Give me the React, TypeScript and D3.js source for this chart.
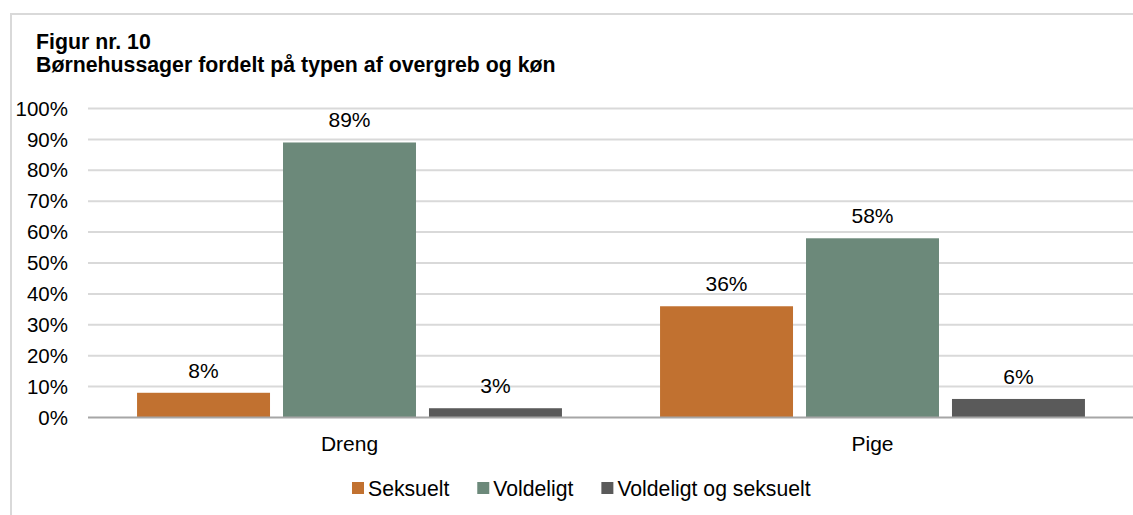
import React, { useEffect, useRef } from "react";
import * as d3 from "d3";

const categories = ["Dreng", "Pige"];
const seriesNames = ["Seksuelt", "Voldeligt", "Voldeligt og seksuelt"];
const seksuelt = [0.08, 0.36];
const voldeligt = [0.89, 0.58];
const voldeligtOgSeksuelt = [0.03, 0.06];
const yTicks = [0, 0.1, 0.2, 0.3, 0.4, 0.5, 0.6, 0.7, 0.8, 0.9, 1];
const colors = ["#C17130", "#6C897A", "#5A5A5A"];

const App = () => {
  const svgRef = useRef<SVGSVGElement>(null);

  useEffect(() => {
    const w = 1133;
    const h = 515;
    const font = "'Liberation Sans', Arial, sans-serif";
    const svg = d3.select(svgRef.current).attr("width", w).attr("height", h);
    svg.selectAll("*").remove();

    // outer frame (cropped at right and bottom)
    svg.append("rect")
      .attr("x", 11).attr("y", 14)
      .attr("width", w + 20).attr("height", h + 20)
      .attr("fill", "#fff")
      .attr("stroke", "#d9d9d9")
      .attr("stroke-width", 2);

    // title
    const title = svg.append("text")
      .attr("font-family", font)
      .attr("font-size", 21.3)
      .attr("font-weight", "bold")
      .attr("fill", "#000");
    title.append("tspan").attr("x", 36).attr("y", 49).text("Figur nr. 10");
    title.append("tspan").attr("x", 36).attr("y", 72).text("Børnehussager fordelt på typen af overgreb og køn");

    const left = 88;
    const right = 1134;
    const y = d3.scaleLinear().domain([0, 1]).range([417.5, 108.5]);
    const x0 = d3.scaleBand().domain(categories).range([left, right]);
    const x1 = d3.scaleBand().domain(seriesNames)
      .range([0, x0.bandwidth()])
      .paddingInner(0.089)
      .paddingOuter(0.336);

    // gridlines
    svg.append("g")
      .selectAll("line")
      .data(yTicks.filter(t => t > 0))
      .join("line")
      .attr("x1", left).attr("x2", w)
      .attr("y1", d => y(d)).attr("y2", d => y(d))
      .attr("stroke", "#d9d9d9")
      .attr("stroke-width", 2);

    // tick labels
    svg.append("g")
      .selectAll("text")
      .data(yTicks)
      .join("text")
      .attr("x", 68)
      .attr("y", d => y(d))
      .attr("dy", "0.35em")
      .attr("text-anchor", "end")
      .attr("font-family", font)
      .attr("font-size", 20.5)
      .attr("fill", "#000")
      .text(d => d3.format(".0%")(d));

    const series = [seksuelt, voldeligt, voldeligtOgSeksuelt];
    const bars = categories.flatMap((c, i) =>
      seriesNames.map((s, j) => ({ cat: c, name: s, value: series[j][i], color: colors[j] }))
    );

    const g = svg.append("g");
    g.selectAll("rect")
      .data(bars)
      .join("rect")
      .attr("x", d => (x0(d.cat) as number) + (x1(d.name) as number))
      .attr("width", x1.bandwidth())
      .attr("y", d => y(d.value))
      .attr("height", d => y(0) - y(d.value))
      .attr("fill", d => d.color);

    // value labels
    g.selectAll("text")
      .data(bars)
      .join("text")
      .attr("x", d => (x0(d.cat) as number) + (x1(d.name) as number) + x1.bandwidth() / 2)
      .attr("y", d => y(d.value) - 15)
      .attr("text-anchor", "middle")
      .attr("font-family", font)
      .attr("font-size", 21)
      .attr("fill", "#000")
      .text(d => d3.format(".0%")(d.value));

    // baseline
    svg.append("line")
      .attr("x1", left).attr("x2", w)
      .attr("y1", y(0)).attr("y2", y(0))
      .attr("stroke", "#a6a6a6")
      .attr("stroke-width", 2);

    // category labels
    svg.append("g")
      .selectAll("text")
      .data(categories)
      .join("text")
      .attr("x", d => (x0(d) as number) + x0.bandwidth() / 2)
      .attr("y", 451)
      .attr("text-anchor", "middle")
      .attr("font-family", font)
      .attr("font-size", 21)
      .attr("fill", "#000")
      .text(d => d);

    // legend
    const legend = svg.append("g").attr("transform", "translate(352,0)");
    let lx = 0;
    seriesNames.forEach((s, i) => {
      legend.append("rect")
        .attr("x", lx).attr("y", 482)
        .attr("width", 12).attr("height", 12)
        .attr("fill", colors[i]);
      const t = legend.append("text")
        .attr("x", lx + 16).attr("y", 495.5)
        .attr("font-family", font)
        .attr("font-size", 21.2)
        .attr("fill", "#000")
        .text(s);
      const tw = (t.node() as SVGTextElement).getComputedTextLength();
      lx += 16 + tw + 28;
    });
  }, []);

  return (
    <div style={{ position: "absolute", left: 0, top: 0 }}>
      <svg ref={svgRef} style={{ display: "block" }}></svg>
    </div>
  );
};

export default App;
